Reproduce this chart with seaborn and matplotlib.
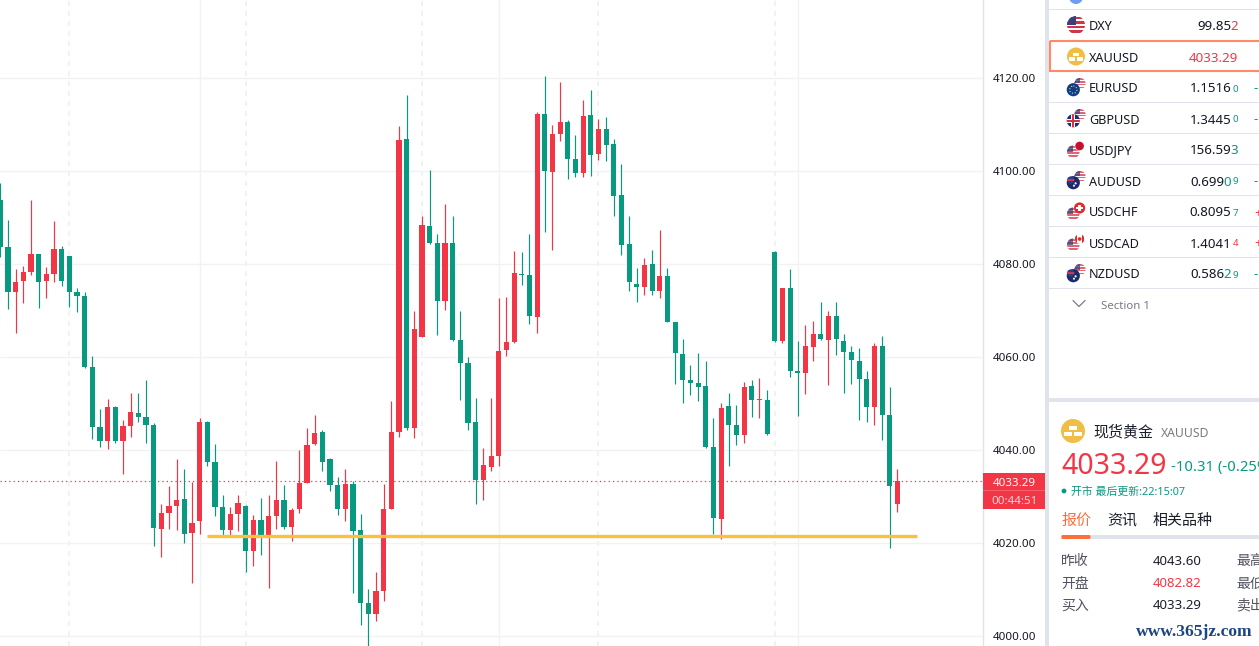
import numpy as np
import pandas as pd
import matplotlib
matplotlib.use("Agg")
import matplotlib.pyplot as plt
from matplotlib.patches import Circle, Rectangle, FancyBboxPatch
import seaborn as sns

# XAUUSD candles
open_px = [
    4093.8, 4083.7, 4074.0, 4076.4, 4078.3, 4082.2, 4076.4, 4077.9, 4083.2, 4081.7,
    4074.0, 4073.1, 4057.9, 4045.0, 4041.9, 4049.3, 4041.9, 4045.2, 4048.0, 4047.1,
    4045.4, 4023.0, 4026.5, 4028.0, 4029.5, 4022.2, 4024.7, 4046.0, 4037.4, 4027.7,
    4022.8, 4026.2, 4028.0, 4018.3, 4024.9, 4021.7, 4025.8, 4029.2, 4023.4, 4027.3,
    4032.9, 4041.3, 4043.9, 4038.1, 4032.5, 4027.3, 4032.7, 4022.8, 4007.1, 4004.7,
    4009.7, 4027.3, 4043.9, 4106.9, 4044.7, 4064.3, 4088.2, 4084.5, 4072.0, 4084.5,
    4063.7, 4058.7, 4046.0, 4033.6, 4036.3, 4038.7, 4061.5, 4063.2, 4077.9, 4077.6,
    4068.6, 4112.3, 4099.8, 4108.0, 4110.5, 4102.6, 4099.6, 4112.0, 4103.7, 4109.0,
    4105.8, 4094.8, 4084.3, 4075.7, 4075.1, 4080.0, 4074.2, 4077.4, 4067.5, 4060.6,
    4055.1, 4054.4, 4053.8, 4040.6, 4025.2, 4049.5, 4045.4, 4043.2, 4053.8, 4050.8,
    4050.8, 4082.6, 4063.4, 4074.8, 4057.0, 4056.6, 4062.2, 4064.9, 4063.7, 4068.8,
    4063.4, 4061.1, 4059.1, 4055.3, 4049.3, 4062.4, 4047.5, 4028.4,
]
close_px = [
    4083.7, 4074.0, 4076.1, 4078.3, 4082.2, 4076.1, 4077.9, 4083.2, 4076.4, 4074.0,
    4073.1, 4057.9, 4045.0, 4041.9, 4049.3, 4041.9, 4045.2, 4048.2, 4047.1, 4045.4,
    4023.2, 4026.5, 4028.0, 4029.3, 4021.9, 4024.3, 4046.0, 4037.4, 4027.8, 4022.8,
    4026.2, 4028.6, 4018.3, 4024.9, 4021.7, 4025.8, 4029.2, 4023.4, 4027.1, 4032.9,
    4041.1, 4043.7, 4037.4, 4032.5, 4027.3, 4032.7, 4022.6, 4007.1, 4004.7, 4009.7,
    4027.3, 4043.9, 4106.7, 4044.7, 4066.0, 4088.4, 4084.5, 4072.0, 4084.5, 4063.7,
    4058.7, 4045.8, 4033.6, 4036.8, 4038.7, 4061.3, 4063.2, 4078.1, 4077.6, 4068.8,
    4112.3, 4100.0, 4108.0, 4110.5, 4102.6, 4099.6, 4111.8, 4103.4, 4109.0, 4105.6,
    4094.6, 4084.1, 4076.1, 4075.1, 4079.8, 4074.2, 4077.4, 4067.5, 4060.9, 4055.1,
    4054.4, 4053.6, 4040.6, 4025.4, 4049.0, 4045.4, 4043.2, 4053.6, 4050.8, 4051.0,
    4043.4, 4063.4, 4074.8, 4057.0, 4056.6, 4062.4, 4064.9, 4063.9, 4068.8, 4063.9,
    4061.1, 4059.4, 4055.3, 4049.3, 4062.4, 4047.5, 4032.3, 4033.29,
]
high_px = [
    4097.4, 4089.5, 4078.9, 4079.6, 4093.8, 4082.2, 4079.4, 4089.3, 4083.9, 4081.7,
    4074.8, 4074.0, 4060.2, 4048.8, 4051.0, 4049.5, 4046.5, 4052.3, 4052.3, 4055.1,
    4045.8, 4028.4, 4032.3, 4038.1, 4035.9, 4033.1, 4046.9, 4046.2, 4041.3, 4030.3,
    4027.7, 4030.3, 4028.2, 4026.0, 4029.7, 4030.3, 4037.6, 4032.5, 4027.5, 4040.0,
    4044.7, 4047.5, 4044.3, 4038.3, 4034.2, 4035.9, 4033.3, 4026.2, 4010.1, 4013.8,
    4032.7, 4050.5, 4109.7, 4116.3, 4069.9, 4090.3, 4100.2, 4086.5, 4092.9, 4090.3,
    4069.9, 4060.0, 4051.2, 4040.4, 4051.2, 4072.7, 4072.9, 4082.8, 4082.6, 4086.5,
    4112.7, 4120.4, 4109.9, 4119.1, 4111.0, 4107.7, 4115.3, 4117.4, 4111.2, 4111.6,
    4106.9, 4101.5, 4090.3, 4079.1, 4081.3, 4083.0, 4087.3, 4079.1, 4067.5, 4063.9,
    4058.3, 4060.9, 4059.1, 4046.9, 4050.1, 4052.3, 4049.7, 4054.6, 4055.1, 4055.5,
    4052.9, 4082.8, 4074.8, 4078.9, 4063.4, 4066.9, 4067.7, 4071.8, 4069.9, 4071.8,
    4064.9, 4062.4, 4061.9, 4057.0, 4063.0, 4064.5, 4053.6, 4035.9,
]
low_px = [
    4081.4, 4070.3, 4065.2, 4071.6, 4077.6, 4070.5, 4072.7, 4076.1, 4075.3, 4070.8,
    4069.7, 4057.6, 4042.4, 4040.7, 4040.2, 4041.5, 4034.8, 4042.8, 4046.0, 4041.5,
    4019.4, 4017.0, 4023.0, 4022.8, 4020.0, 4011.4, 4021.9, 4036.6, 4025.8, 4021.5,
    4021.5, 4022.6, 4013.8, 4015.0, 4017.4, 4010.3, 4023.0, 4023.0, 4020.4, 4026.4,
    4032.9, 4041.1, 4035.5, 4031.2, 4026.0, 4024.7, 4009.2, 4002.4, 3997.8, 4003.2,
    4007.5, 4027.3, 4042.8, 4044.3, 4042.6, 4064.3, 4084.3, 4064.7, 4070.1, 4063.4,
    4050.8, 4044.3, 4028.4, 4029.3, 4035.5, 4036.6, 4060.2, 4063.0, 4075.5, 4067.1,
    4065.2, 4086.9, 4083.0, 4106.5, 4098.3, 4098.7, 4098.7, 4098.9, 4102.4, 4102.2,
    4090.3, 4081.9, 4074.2, 4071.8, 4073.3, 4073.3, 4072.7, 4067.5, 4054.2, 4050.1,
    4051.8, 4050.5, 4040.4, 4021.9, 4020.9, 4036.6, 4041.1, 4041.5, 4047.1, 4046.9,
    4043.2, 4063.2, 4063.0, 4055.7, 4047.3, 4052.0, 4059.1, 4063.7, 4054.0, 4060.4,
    4052.3, 4054.2, 4046.5, 4046.0, 4045.4, 4042.2, 4018.9, 4026.7,
]
price_ticks = [4000, 4020, 4040, 4060, 4080, 4100, 4120]
last_price = 4033.29
support_price = 4021.4
support_span = [27, 119.5]
dashed_bars = [9, 32, 55, 78, 101]
solid_bars = [26, 65, 104]

# watchlist
symbols = ["DXY", "XAUUSD", "EURUSD", "GBPUSD", "USDJPY", "AUDUSD", "USDCHF", "USDCAD", "NZDUSD"]
quote_main = ["99.85", "4033.29", "1.1516", "1.3445", "156.59", "0.699", "0.8095", "1.4041", "0.586"]
quote_tick = ["2", "", "", "", "3", "0", "", "", "2"]
quote_small = ["", "", "0", "0", "", "9", "7", "4", "9"]
quote_up = [True, True, False, False, False, False, False, True, False]
change_sign = ["", "", "-", "-", "", "-", "+", "+", "-"]

# detail table
table_labels = ["昨收", "开盘", "买入"]
table_values = ["4043.60", "4082.82", "4033.29"]
table_right = ["最高", "最低", "卖出"]

RED = "#f23645"
GREEN = "#089981"
GRID = "#f1f2f5"
BORDER = "#e0e3eb"
INK = "#131722"
GREY = "#787b86"

sns.set_theme(style="white")
plt.rcParams["font.family"] = ["Noto Sans", "Noto Sans CJK SC", "DejaVu Sans"]

df = pd.DataFrame({"bar": np.arange(len(open_px)), "open": open_px, "high": high_px,
                   "low": low_px, "close": close_px})
df["bottom"] = df[["open", "close"]].min(axis=1)
df["body"] = (df["open"] - df["close"]).abs()
df["rising"] = df["close"] > df["open"]

fig = plt.figure(figsize=(12.59, 6.46), dpi=100, facecolor="white")
ax = fig.add_axes([0, 0, 982.5 / 1259, 1])

# grid first so the candles sit on it
for b in dashed_bars:
    ax.axvline(b, color=GRID, lw=1.5, ls=(0, (2.4, 2.4)), zorder=0)
for b in solid_bars:
    ax.axvline(b, color=GRID, lw=1, zorder=0)
for p in price_ticks:
    ax.axhline(p, color=GRID, lw=1, zorder=0)

ax.axhline(last_price, color=RED, lw=0.9, ls=(0, (1, 2.5)), zorder=1)

for rising, color in [(True, RED), (False, GREEN)]:
    part = df[df["rising"] == rising]
    ax.vlines(part["bar"], part["low"], part["high"], color=color, lw=0.85, zorder=2)
    sns.barplot(data=part, x="bar", y="body", bottom=part["bottom"].to_numpy(), native_scale=True,
                color=color, saturation=1, width=0.66, errorbar=None, linewidth=0, ax=ax, zorder=3)

ax.hlines(support_price, support_span[0], support_span[1], color="#fcbf3e", lw=2.4, zorder=4)

ax.set_xlim(-0.043, 128.1)
ax.set_ylim(3997.85, 4136.77)
ax.set_xlabel("")
ax.set_ylabel("")
ax.set_xticks([])
ax.yaxis.tick_right()
ax.set_yticks(price_ticks)
ax.set_yticklabels([f"{p:.2f}" for p in price_ticks], fontsize=8.3, color=INK)
ax.tick_params(axis="y", length=0, pad=7.5)
sns.despine(ax=ax, left=True, bottom=True, top=True, right=False)
ax.spines["right"].set_color(BORDER)
ax.spines["right"].set_linewidth(1)

# the page around the chart, drawn in pixels
ui = fig.add_axes([0, 0, 1, 1], facecolor="none")
ui.set_xlim(0, 1259)
ui.set_ylim(646, 0)
ui.axis("off")


def rect(x0, y0, x1, y1, color, **kw):
    ui.add_patch(Rectangle((x0, y0), x1 - x0, y1 - y0, facecolor=color, edgecolor="none", **kw))


def label(x, y, s, size, color=INK, ha="left", **kw):
    ui.text(x, y, s, fontsize=size, color=color, ha=ha, va="center_baseline", **kw)


def disc(cx, cy, r, color, alpha=1.0):
    c = Circle((cx, cy), r, facecolor=color, edgecolor="none", alpha=alpha)
    ui.add_patch(c)
    return c


def clipped(patch, clip):
    ui.add_patch(patch)
    patch.set_clip_path(clip)


def us_flag(cx, cy, r, alpha=1.0):
    c = disc(cx, cy, r, "white", alpha)
    for k in range(4):
        y0 = cy - r + (2 * k + 0.4) * r / 4
        clipped(Rectangle((cx - r, y0), 2 * r, r / 4, facecolor="#d3344a", edgecolor="none", alpha=alpha), c)
    clipped(Rectangle((cx - r, cy - r), r, r, facecolor="#3c3f78", edgecolor="none", alpha=alpha), c)


def uk_flag(cx, cy, r):
    c = disc(cx, cy, r, "#1f2f70")
    for w, col in [(r * 0.6, "white"), (r * 0.3, "#d3344a")]:
        clipped(Rectangle((cx - r, cy - w / 2), 2 * r, w, facecolor=col, edgecolor="none"), c)
        clipped(Rectangle((cx - w / 2, cy - r), w, 2 * r, facecolor=col, edgecolor="none"), c)


def other_flag(sym, cx, cy, r):
    if sym == "EUR":
        disc(cx, cy, r, "#0f3c8f")
        ui.add_patch(Circle((cx, cy), r * 0.55, facecolor="none", edgecolor="#e8d44a", lw=0.8, ls=":"))
    elif sym == "GBP":
        uk_flag(cx, cy, r)
    elif sym == "JPY":
        disc(cx, cy, r, "white")
        disc(cx, cy, r * 0.9, "#c8102e")
    elif sym == "CHF":
        disc(cx, cy, r, "#e22b2b")
        rect(cx - r * 0.6, cy - r * 0.2, cx + r * 0.6, cy + r * 0.2, "white")
        rect(cx - r * 0.2, cy - r * 0.6, cx + r * 0.2, cy + r * 0.6, "white")
    elif sym == "CAD":
        c = disc(cx, cy, r, "white")
        clipped(Rectangle((cx - r, cy - r), r * 0.5, 2 * r, facecolor="#e22b2b", edgecolor="none"), c)
        clipped(Rectangle((cx + r * 0.5, cy - r), r * 0.5, 2 * r, facecolor="#e22b2b", edgecolor="none"), c)
        disc(cx, cy, r * 0.38, "#e22b2b")
    else:
        disc(cx, cy, r, "#1c2a6b")
        disc(cx + r * 0.35, cy + r * 0.1, r * 0.16, "white")
        disc(cx + r * 0.1, cy + r * 0.45, r * 0.16, "#f0f0f0")
        c = disc(cx - r * 0.4, cy - r * 0.4, r * 0.55, "#2a3d86")
        clipped(Rectangle((cx - r, cy - r * 0.5), r * 1.2, r * 0.2, facecolor="#d3344a", edgecolor="none"), c)


def gold_coin(cx, cy, r):
    disc(cx, cy, r, "#f0bd45")
    s = r / 9
    rect(cx - 3 * s, cy - 4 * s, cx + 3 * s, cy - 0.7 * s, "white")
    rect(cx - 7 * s, cy + 0.7 * s, cx - 0.7 * s, cy + 4 * s, "white")
    rect(cx + 0.7 * s, cy + 0.7 * s, cx + 7 * s, cy + 4 * s, "white")


# price tag on the axis
rect(983, 473, 1045, 509, RED)
rect(983, 490, 1045, 491, "#f6606d")
label(1014.5, 481.5, f"{last_price:.2f}", 8.3, "white", ha="center", fontweight="medium")
label(1014.5, 500, "00:44:51", 8.3, "#fbd0d5", ha="center")

# panel frame
rect(1045, 0, 1049, 646, BORDER)
rect(1049, 398.3, 1259, 401.8, BORDER)
disc(1076, -3, 7, "#6f9cec")

row_y = 26
rect(1049, 9, 1259, 10, BORDER)
for k, sym in enumerate(symbols):
    y = row_y + 31 * k
    rect(1049, y + 14, 1259, y + 15, BORDER)
    label(1089, y - 0.5, sym, 9.1, INK)
    if sym == "DXY":
        us_flag(1076, y - 1, 9)
    elif sym == "XAUUSD":
        gold_coin(1076, y - 0.5, 9)
    elif sym.startswith("USD"):
        us_flag(1073.3, y + 1.7, 6.3, 0.75)
        other_flag(sym[3:], 1079.6, y - 4, 4.8 if sym != "USDCHF" else 5.6)
    else:
        us_flag(1080, y - 4.5, 5.6, 0.75)
        other_flag(sym[:3], 1073.3, y + 1.7, 6.6)

    tone = RED if quote_up[k] else GREEN
    main_color = RED if sym == "XAUUSD" else INK
    if sym == "XAUUSD":
        label(1238.5, y - 0.5, quote_main[k], 9.6, main_color, ha="right")
    elif quote_tick[k] and quote_small[k]:
        label(1224.5, y - 0.5, quote_main[k], 9.6, main_color, ha="right")
        label(1231.5, y - 0.5, quote_tick[k], 9.6, tone, ha="right")
        label(1238.5, y, quote_small[k], 7, tone, ha="right")
    elif quote_tick[k]:
        label(1231.5, y - 0.5, quote_main[k], 9.6, main_color, ha="right")
        label(1238.5, y - 0.5, quote_tick[k], 9.6, tone, ha="right")
    else:
        label(1231.5, y - 0.5, quote_main[k], 9.6, main_color, ha="right")
        label(1238.5, y, quote_small[k], 7, tone, ha="right")
    if change_sign[k]:
        label(1254, y - 0.5, change_sign[k], 9.6, RED if change_sign[k] == "+" else GREEN)

# highlighted row
ui.add_patch(Rectangle((1049.8, 41.3), 215, 29.6, facecolor="none", edgecolor="#ff8a65", lw=1.5))

ui.plot([1073, 1079, 1085], [300.5, 306.5, 300.5], color=GREY, lw=0.9)
label(1101, 305, "Section 1", 8.2, GREY)

# quote detail panel
gold_coin(1073, 431, 12)
label(1093, 431, "现货黄金", 10.8, "#1b1f2b")
label(1161, 432, "XAUUSD", 8.8, GREY)
label(1061, 463, f"{last_price:.2f}", 20.5, RED, fontweight="medium")
label(1171, 465, "-10.31 (-0.25%)", 10.7, GREEN)
disc(1064, 491, 2.4, GREEN)
label(1071, 491, "开市 最后更新:22:15:07", 7.8, GREEN)
label(1061, 519.5, "报价", 10.8, "#ff6d3a")
label(1107, 519.5, "资讯", 10.8, "#1b1f2b")
label(1153, 519.5, "相关品种", 10.8, "#1b1f2b")
rect(1061, 535, 1259, 539, BORDER)
ui.add_patch(FancyBboxPatch((1062, 535.5), 28, 3, boxstyle="round,pad=0.5,rounding_size=1.5",
                            facecolor="#ff6d3a", edgecolor="none"))
for k, y in enumerate([560, 582, 604]):
    label(1061, y, table_labels[k], 10, "#50535e")
    label(1153, y, table_values[k], 9.5, RED if k == 1 else "#1b1f2b")
    label(1236, y, table_right[k], 10, "#50535e")

ui.text(1194.5, 630.5, "www.365jz.com", fontsize=12.6, color="#1d4585", fontfamily="Liberation Serif",
        fontweight="bold", ha="center", va="center_baseline")

fig.savefig("out.png", dpi=100)
plt.close(fig)
